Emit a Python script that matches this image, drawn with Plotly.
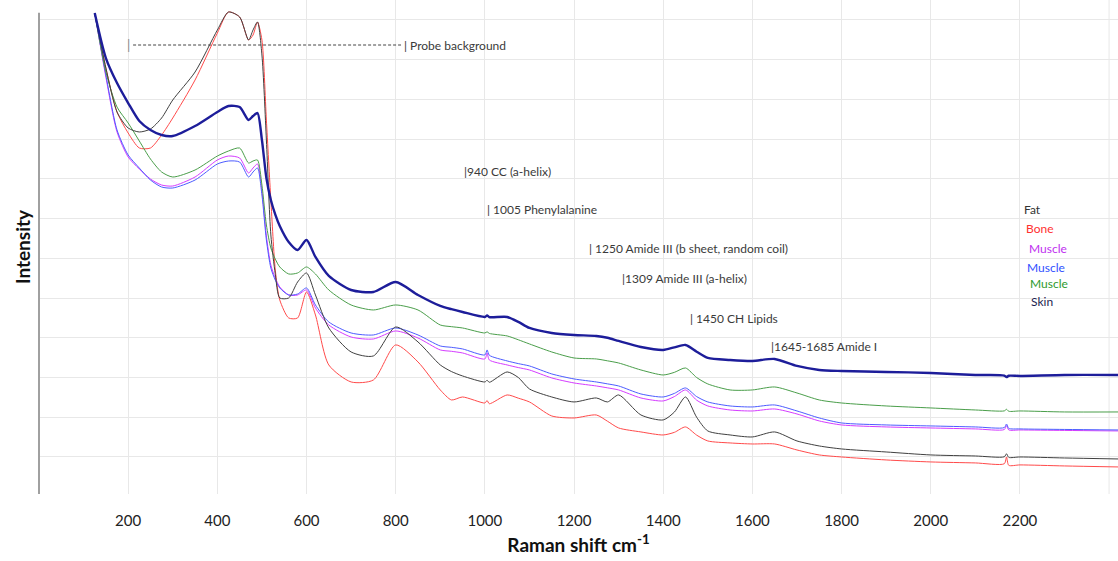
import plotly.graph_objects as go

# Raman shift axis (cm-1), shared by all spectra
shift_cm = [125, 150, 175, 200, 225, 250, 275, 300, 350, 400, 425, 450, 470, 480, 490,
            500, 510, 520, 530, 540, 560, 580, 600, 620, 650, 700, 750, 800, 850, 900,
            925, 950, 1000, 1005, 1010, 1050, 1075, 1100, 1150, 1200, 1250, 1275, 1300,
            1350, 1400, 1425, 1450, 1475, 1500, 1550, 1600, 1650, 1700, 1750, 1800, 1900,
            2000, 2100, 2165, 2170, 2175, 2200, 2300, 2420]

skin = [12175, 11041, 10412, 9909, 9456, 9230, 9104, 9079, 9330, 9683, 9834, 9808, 9481, 9582, 9657,
        8978, 8022, 7468, 7100, 6814, 6411, 6210, 6462, 6034, 5556, 5203, 5153, 5404, 5077, 4801,
        4720, 4650, 4524, 4560, 4520, 4524, 4400, 4247, 4121, 4071, 4046, 4000, 3920,
        3769, 3694, 3760, 3819, 3650, 3492, 3442, 3417, 3467, 3291, 3190, 3165, 3140,
        3115, 3064, 3050, 3010, 3045, 3039, 3064, 3064]

muscle_green = [12175, 10689, 9808, 9406, 8953, 8500, 8173, 8047, 8223, 8575, 8701, 8776, 8399, 8449, 8475,
                7845, 6839, 6260, 5980, 5782, 5606, 5631, 5782, 5606, 5203, 4826, 4700, 4826, 4700, 4322,
                4280, 4247, 4121, 4150, 4110, 4046, 3950, 3845, 3643, 3492, 3467, 3420, 3366,
                3190, 3064, 3130, 3240, 3000, 2838, 2687, 2687, 2762, 2611, 2435, 2359, 2284,
                2234, 2183, 2160, 2200, 2150, 2158, 2133, 2133]

muscle_blue = [12175, 10613, 9230, 8600, 8273, 7971, 7795, 7770, 7971, 8374, 8449, 8424, 8047, 8173, 8273,
               7594, 6462, 5757, 5450, 5254, 5077, 5102, 5254, 4826, 4398, 4121, 4071, 4247, 4071, 3794,
               3760, 3719, 3568, 3694, 3560, 3417, 3350, 3291, 3090, 2964, 2888, 2840, 2787,
               2586, 2510, 2600, 2737, 2520, 2385, 2284, 2259, 2309, 2158, 1982, 1856, 1806,
               1781, 1756, 1740, 1830, 1720, 1706, 1693, 1680]

muscle_magenta = [12175, 10560, 9180, 8550, 8248, 7996, 7845, 7820, 8047, 8475, 8575, 8525, 8148, 8273, 8374,
                  7700, 6562, 5832, 5500, 5279, 5077, 5077, 5203, 4750, 4322, 4020, 3970, 4172, 3995, 3694,
                  3660, 3618, 3467, 3618, 3442, 3316, 3250, 3190, 2989, 2863, 2787, 2740, 2687,
                  2485, 2410, 2520, 2687, 2430, 2284, 2183, 2158, 2208, 2082, 1907, 1806, 1756,
                  1730, 1706, 1690, 1790, 1680, 1680, 1668, 1655]

fat = [12175, 10790, 9683, 9280, 9180, 9255, 9532, 9985, 10689, 11746, 12199, 12074, 11495, 11746, 11947,
       11117, 8978, 6588, 5600, 5002, 5002, 5404, 5631, 5077, 4247, 3643, 3543, 4272, 3895, 3316,
       3150, 3039, 2888, 2930, 2880, 3140, 3000, 2712, 2510, 2385, 2485, 2385, 2561,
       2057, 1932, 2130, 2510, 2000, 1655, 1554, 1504, 1630, 1403, 1277, 1202, 1126,
       1051, 1025, 1005, 1080, 990, 1000, 975, 950]

bone = [12175, 10790, 9683, 9154, 8777, 8777, 9104, 9532, 10488, 11670, 12199, 12074, 11495, 11620, 11947,
        11495, 9481, 7468, 5706, 4952, 4499, 4499, 5153, 4574, 3316, 2888, 2938, 3820, 3392, 2687,
        2435, 2510, 2359, 2420, 2340, 2561, 2480, 2385, 2032, 1982, 2057, 1900, 1730,
        1630, 1554, 1620, 1756, 1550, 1403, 1353, 1327, 1327, 1176, 1051, 1000, 925,
        875, 850, 830, 1000, 790, 800, 774, 749]

# Band assignments: (x, y, text)
band_x = [949, 1000, 1229, 1303, 1455, 1637]
band_y = [8173, 7236, 6254, 5499, 4473, 3769]
band_text = ["|940 CC (a-helix)", "| 1005 Phenylalanine", "| 1250 Amide III (b sheet, random coil)",
             "|1309 Amide III (a-helix)", "| 1450 CH Lipids", "|1645-1685 Amide I"]

# Probe background marker
probe_x = [200, 211, 812, 814]
probe_y = 11369

# Sample labels
label_text = ["Fat", "Bone", "Muscle", "Muscle", "Muscle", "Skin"]
label_x = [2205, 2209, 2216, 2211, 2218, 2220]
label_y = [7236, 6757, 6254, 5776, 5354, 4901]
label_color = ["#333333", "#ff3030", "#c030f0", "#3050ff", "#2e9a2e", "#1c1c50"]

x_ticks = [200, 400, 600, 800, 1000, 1200, 1400, 1600, 1800, 2000, 2200]
x_extra_grid = [2400]
y_grid = [1000, 2000, 3000, 4000, 5000, 6000, 7000, 8000, 9000, 10000, 11000, 12000]

FONT = "Lato, 'Open Sans', sans-serif"
GRID = "#e8e8e8"

fig = go.Figure()
series = [
    ("Bone", bone, "#ff4a4a", 1),
    ("Muscle", muscle_magenta, "#d53cff", 1),
    ("Muscle", muscle_blue, "#4d5cff", 1),
    ("Muscle", muscle_green, "#4a9e4a", 1),
    ("Fat", fat, "#404040", 1),
    ("Skin", skin, "#1d1d9a", 2.4),
]
for name, vals, col, w in series:
    fig.add_trace(go.Scatter(x=shift_cm, y=vals, mode="lines", name=name,
                             line=dict(color=col, width=w, shape="spline", smoothing=0.7),
                             showlegend=False))

annotations = []
for x, y, t in zip(band_x, band_y, band_text):
    annotations.append(dict(x=x, y=y, text=t, showarrow=False, xanchor="left", yanchor="middle",
                            font=dict(family=FONT, size=12, color="#3a3a3a")))
annotations.append(dict(x=probe_x[0], y=probe_y, text="|", showarrow=False, xanchor="center",
                        yanchor="middle", font=dict(family=FONT, size=13, color="#888888")))
annotations.append(dict(x=probe_x[3], y=probe_y, text="| Probe background", showarrow=False,
                        xanchor="left", yanchor="middle",
                        font=dict(family=FONT, size=12, color="#3a3a3a")))
for x, y, t, c in zip(label_x, label_y, label_text, label_color):
    annotations.append(dict(x=x, y=y, text=t, showarrow=False, xanchor="left", yanchor="middle",
                            font=dict(family=FONT, size=12, color=c)))

shapes = [
    dict(type="line", xref="x", yref="y", x0=probe_x[1], x1=probe_x[2], y0=probe_y, y1=probe_y,
         line=dict(color="#444444", width=1, dash="3px,2px")),
    dict(type="line", xref="paper", yref="paper", x0=0, x1=0, y0=0, y1=0.974,
         line=dict(color="#a0a0a0", width=2)),
]
for gx in x_extra_grid:
    shapes.append(dict(type="line", xref="x", yref="paper", x0=gx, x1=gx, y0=0, y1=1,
                       layer="below", line=dict(color=GRID, width=1)))

fig.update_layout(
    width=1118, height=561,
    margin=dict(l=39, r=0, t=0, b=67),
    paper_bgcolor="white", plot_bgcolor="white",
    font=dict(family=FONT, color="#222222"),
    annotations=annotations, shapes=shapes,
    xaxis=dict(range=[0, 2420], tickvals=x_ticks,
               showgrid=True, gridcolor=GRID, gridwidth=1, zeroline=False,
               showline=False, ticks="", tickfont=dict(family=FONT, size=15, color="#222222"),
               ticklabelstandoff=16,
               title=dict(text="<b>Raman shift cm<sup>-1</sup></b>", standoff=10,
                          font=dict(family=FONT, size=19, color="#111111"))),
    yaxis=dict(range=[68, 12502], tickvals=y_grid, showticklabels=False,
               showgrid=True, gridcolor=GRID, gridwidth=1, zeroline=False,
               showline=False, ticks="",
               title=dict(text="<b>Intensity</b>", standoff=2,
                          font=dict(family=FONT, size=19, color="#111111"))),
)

fig.write_html("out.html")
